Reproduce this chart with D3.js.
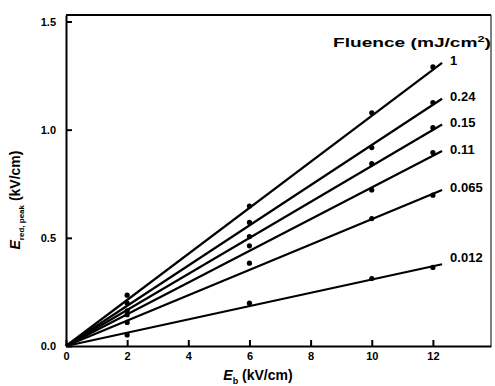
<!DOCTYPE html>
<html>
<head>
<meta charset="utf-8">
<script src="https://cdn.jsdelivr.net/npm/d3@7"></script>
<style>
  body { margin: 0; background: #fff; }
  svg { display: block; font-family: "Liberation Sans", Arial, sans-serif; font-weight: bold; }
</style>
</head>
<body>
<svg id="chart" width="495" height="386"></svg>
<script>
// fluence levels (mJ/cm^2), one fitted line each
const fluence = ['1', '0.24', '0.15', '0.11', '0.065', '0.012']
// measured points at these bias fields (kV/cm)
const biasX = [2, 6, 10, 12]
const measured = [
  [0.235, 0.647, 1.078, 1.29],
  [0.198, 0.571, 0.917, 1.125],
  [0.163, 0.506, 0.843, 1.009],
  [0.145, 0.463, 0.721, 0.894],
  [0.109, 0.383, 0.589, 0.697],
  [0.051, 0.198, 0.312, 0.363]
]
// fitted line value at its end point (x = 12.3)
const fitEndX = 12.3
const fitEnd = [1.309, 1.143, 1.024, 0.901, 0.721, 0.378]

const xTicks = [0, 2, 4, 6, 8, 10, 12]
const yTicks = [0, 0.5, 1.0, 1.5]

const c = { left: 66, right: 491, top: 15, bottom: 346 }
const svg = d3.select('#chart')

const x = d3.scaleLinear([0, 13.9], [c.left, c.right])
const y = d3.scaleLinear([0, 1.53], [c.bottom, c.top])

// frame top / right
svg.append('line')
  .attr('x1', c.left).attr('x2', c.right).attr('y1', c.top).attr('y2', c.top)
  .attr('stroke', '#000').attr('stroke-width', 2)
svg.append('line')
  .attr('x1', c.right).attr('x2', c.right).attr('y1', c.top).attr('y2', c.bottom)
  .attr('stroke', '#000').attr('stroke-width', 1)

// X axis
svg.append('g')
  .attr('transform', `translate(0,${ c.bottom })`)
  .call(d3.axisBottom(x).tickValues(xTicks).tickFormat(d3.format('d')).tickSizeInner(-6).tickSizeOuter(0).tickPadding(6))

// Y axis
svg.append('g')
  .attr('transform', `translate(${ c.left },0)`)
  .call(d3.axisLeft(y).tickValues(yTicks).tickFormat(d3.format('.1f')).tickSizeInner(-6).tickSizeOuter(0).tickPadding(10))

svg.selectAll('.domain').attr('stroke', '#000').attr('stroke-width', 2)
svg.selectAll('.tick line').attr('stroke', '#000').attr('stroke-width', 2)
svg.selectAll('.tick text')
  .attr('fill', '#000')
  .style('font-size', '11px')
  .style('font-weight', 'bold')
  .style('font-family', '"Liberation Sans", Arial, sans-serif')

// fitted lines
const plot = svg.append('g')
plot.selectAll('line.fit')
  .data(fitEnd)
  .join('line')
  .classed('fit', true)
  .attr('x1', x(0)).attr('y1', y(0))
  .attr('x2', x(fitEndX)).attr('y2', (d) => y(d))
  .attr('stroke', '#000')
  .attr('stroke-width', 2.2)

// measured points
plot.selectAll('g.pts')
  .data(measured)
  .join('g')
  .classed('pts', true)
  .selectAll('circle')
  .data((d) => d.map((v, i) => [biasX[i], v]))
  .join('circle')
  .attr('cx', (d) => x(d[0]))
  .attr('cy', (d) => y(d[1]))
  .attr('r', 2.6)
  .attr('fill', '#000')

// series labels
plot.selectAll('text.lab')
  .data(fitEnd)
  .join('text')
  .classed('lab', true)
  .attr('x', x(fitEndX) + 8)
  .attr('y', (d, i) => y(d) - (i === fitEnd.length - 1 ? 6 : 1))
  .attr('dominant-baseline', 'middle')
  .attr('font-size', 13)
  .text((d, i) => fluence[i])

// legend title
const title = svg.append('text')
  .attr('x', 333)
  .attr('y', 47)
  .attr('font-size', 13.5)
  .attr('textLength', 158)
  .attr('lengthAdjust', 'spacingAndGlyphs')
title.append('tspan').text('Fluence (mJ/cm')
title.append('tspan').attr('font-size', 9).attr('dy', -5).text('2')
title.append('tspan').attr('dy', 5).text(')')

// x label
const xl = svg.append('text')
  .attr('x', 258)
  .attr('y', 380)
  .attr('text-anchor', 'middle')
  .attr('font-size', 14)
xl.append('tspan').attr('font-style', 'italic').text('E')
xl.append('tspan').attr('font-size', 9).attr('dy', 4).text('b')
xl.append('tspan').attr('dy', -4).text(' (kV/cm)')

// y label
const yl = svg.append('text')
  .attr('transform', 'translate(20,200) rotate(-90)')
  .attr('text-anchor', 'middle')
  .attr('font-size', 14)
yl.append('tspan').attr('font-style', 'italic').text('E')
yl.append('tspan').attr('font-size', 8).attr('dy', 4).text('red, peak')
yl.append('tspan').attr('dy', -4).text(' (kV/cm)')
</script>
</body>
</html>
